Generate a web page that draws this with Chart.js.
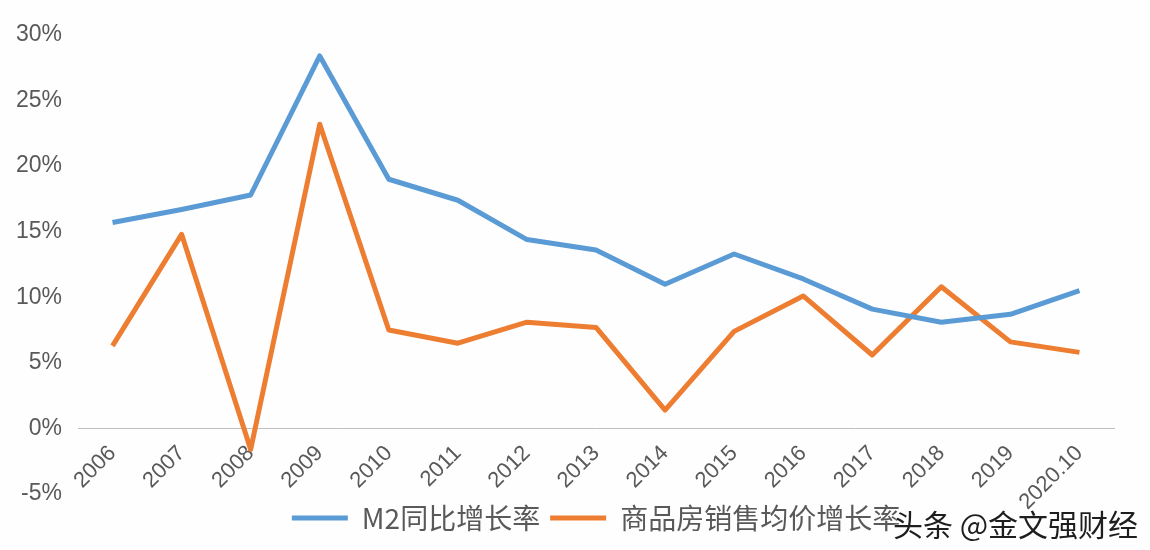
<!DOCTYPE html>
<html>
<head>
<meta charset="utf-8">
<title>M2 vs 商品房销售均价</title>
<script src="https://cdn.jsdelivr.net/npm/chart.js@4.4.1/dist/chart.umd.min.js"></script>
<style>
    html, body { margin: 0; padding: 0; background: #fefefe; }
    #wrap { position: relative; width: 1150px; height: 550px; }
    #watermark {
        position: absolute;
        left: 893px;
        top: 501px;
        font-family: 'Noto Sans CJK SC', sans-serif;
        font-size: 30px;
        color: #1e1e1e;
        white-space: nowrap;
        text-shadow: 0 0 2px #fff, 0 0 2px #fff;
    }
</style>
</head>
<body>
<div id="wrap">
    <canvas id="chart" width="1150" height="550"></canvas>
    <div id="watermark">头条 @金文强财经</div>
</div>
<script>
// Categories and series (percent)
const years = ['2006', '2007', '2008', '2009', '2010', '2011', '2012', '2013',
    '2014', '2015', '2016', '2017', '2018', '2019', '2020.10'];
const m2Growth = [15.7, 16.7, 17.8, 28.4, 19.0, 17.4, 14.4, 13.6, 11.0, 13.3, 11.4, 9.1, 8.1, 8.7, 10.5];
const housePriceGrowth = [6.3, 14.8, -1.6, 23.2, 7.5, 6.5, 8.1, 7.7, 1.4, 7.4, 10.1, 5.6, 10.8, 6.6, 5.8];
const yTicks = [-5, 0, 5, 10, 15, 20, 25, 30];

const colors = {
    blue: '#5b9bd5',
    orange: '#ed7d31',
    text: '#595959',
    axis: '#bfbfbf'
};

const ctx = document.getElementById('chart');

new Chart(ctx, {
    type: 'line',
    data: {
        labels: years,
        datasets: [
            {
                label: 'M2同比增长率',
                data: m2Growth,
                borderColor: colors.blue,
                backgroundColor: colors.blue,
                borderWidth: 5,
                pointRadius: 0,
                borderJoinStyle: 'round',
                tension: 0
            },
            {
                label: '商品房销售均价增长率',
                data: housePriceGrowth,
                borderColor: colors.orange,
                backgroundColor: colors.orange,
                borderWidth: 5,
                pointRadius: 0,
                borderJoinStyle: 'round',
                tension: 0
            }
        ]
    },
    options: {
        responsive: false,
        animation: false,
        layout: {
            padding: { left: 0, right: 36, top: 35, bottom: 8 }
        },
        plugins: {
            legend: {
                position: 'bottom',
                fullSize: false, // centre the legend under the plot area
                labels: {
                    usePointStyle: true,
                    pointStyle: 'line',
                    pointStyleWidth: 56,
                    boxHeight: 5,
                    padding: 10,
                    color: colors.text,
                    font: { family: "'Noto Sans CJK SC', sans-serif", size: 28 }
                }
            },
            tooltip: { enabled: false }
        },
        scales: {
            x: {
                // axis line and labels sit on the 0% level, as in the original
                position: { y: 0 },
                offset: true,
                grid: { display: false, drawTicks: false },
                border: { display: true, color: colors.axis, width: 1 },
                ticks: {
                    minRotation: 45,
                    maxRotation: 45,
                    padding: 12,
                    color: colors.text,
                    font: { family: "'Liberation Sans', Arial, sans-serif", size: 22 }
                },
                afterFit: function(scale) {
                    scale.height = 0;
                }
            },
            y: {
                min: -5,
                max: 30,
                afterBuildTicks: function(scale) {
                    scale.ticks = yTicks.map(v => ({ value: v }));
                },
                grid: { display: false, drawTicks: false },
                border: { display: false },
                ticks: {
                    padding: 16,
                    color: colors.text,
                    font: { family: "'Liberation Sans', Arial, sans-serif", size: 23 },
                    callback: function(value) {
                        return value + '%';
                    }
                },
                afterFit: function(scale) {
                    scale.width = 78;
                }
            }
        }
    }
});
</script>
</body>
</html>
